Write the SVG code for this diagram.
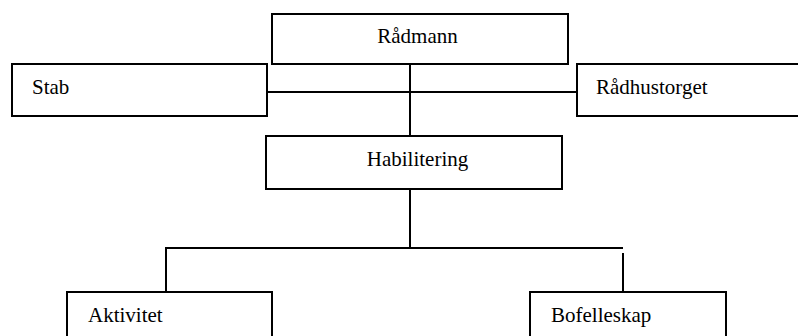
<svg xmlns="http://www.w3.org/2000/svg" width="798" height="336" viewBox="0 0 798 336">
<style>
.box{fill:#fff;stroke:#000;stroke-width:2}
.ln{stroke:#000;stroke-width:2;fill:none}
text{font-family:"Liberation Serif","Times New Roman",serif;font-size:21px;fill:#000}
</style>
<rect width="798" height="336" fill="#fff"/>
<g id="connectors">
<line class="ln" x1="410" y1="64" x2="410" y2="136"/>
<line class="ln" x1="267" y1="92" x2="577" y2="92"/>
<line class="ln" x1="410" y1="189" x2="410" y2="248"/>
<line class="ln" x1="165" y1="248" x2="623" y2="248"/>
<line class="ln" x1="166" y1="248" x2="166" y2="292"/>
<line class="ln" x1="623" y1="253" x2="623" y2="292"/>
</g>
<g id="radmann">
<rect class="box" x="272" y="14" width="296" height="50"/>
<text x="417.5" y="43" text-anchor="middle">Rådmann</text>
</g>
<g id="stab">
<rect class="box" x="12" y="64" width="255" height="52"/>
<text x="32" y="94">Stab</text>
</g>
<g id="radhustorget">
<rect class="box" x="577" y="64" width="240" height="52"/>
<text x="596" y="94">Rådhustorget</text>
</g>
<g id="habilitering">
<rect class="box" x="266" y="136" width="296" height="53"/>
<text x="417.5" y="166" text-anchor="middle">Habilitering</text>
</g>
<g id="aktivitet">
<rect class="box" x="67" y="292" width="205" height="60"/>
<text x="88" y="322">Aktivitet</text>
</g>
<g id="bofelleskap">
<rect class="box" x="530" y="292" width="196" height="60"/>
<text x="551" y="322">Bofelleskap</text>
</g>
</svg>
